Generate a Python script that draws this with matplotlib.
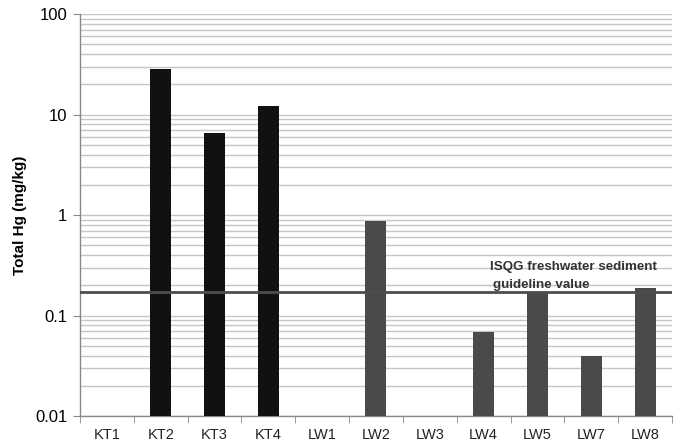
import numpy as np
import matplotlib.pyplot as plt
from matplotlib.ticker import LogLocator, FixedLocator, NullFormatter

# Hg concentrations per sampling site (mg/kg); NaN = not detected
sites = ['KT1', 'KT2', 'KT3', 'KT4', 'LW1', 'LW2', 'LW3', 'LW4', 'LW5', 'LW7', 'LW8']
total_hg = [np.nan, 28.4, 6.5, 12.2, np.nan, 0.87, np.nan, 0.069, 0.168, 0.040, 0.188]
bar_colors = ['#111111'] * 4 + ['#4a4a4a'] * 7
isqg_value = 0.17

plt.rcParams['font.family'] = ['Liberation Sans', 'DejaVu Sans']

fig = plt.figure(figsize=(6.75, 4.46), dpi=100)
ax = fig.add_axes([0.1185, 0.0673, 0.877, 0.901])

x = np.arange(len(sites))
ax.bar(x, total_hg, width=0.39, color=bar_colors, zorder=3)

ax.set_yscale('log')
ax.set_ylim(0.01, 100)
ax.set_xlim(-0.5, len(sites) - 0.5)

# log gridlines (major and minor)
ax.yaxis.set_major_locator(LogLocator(base=10))
ax.yaxis.set_minor_locator(LogLocator(base=10, subs=np.arange(2, 10)))
ax.yaxis.set_minor_formatter(NullFormatter())
ax.set_yticks([0.01, 0.1, 1, 10, 100])
ax.set_yticklabels(['0.01', '0.1', '1', '10', '100'])
ax.grid(True, which='both', axis='y', color='#c6c6c6', linewidth=1.0, zorder=0)
ax.tick_params(axis='y', which='major', length=5, color='#888888', labelsize=12, pad=4)
ax.tick_params(axis='y', which='minor', length=0)

# category labels with tick marks between categories
ax.set_xticks(x)
ax.set_xticklabels(sites)
ax.xaxis.set_minor_locator(FixedLocator(np.arange(-0.5, len(sites), 1.0)))
ax.tick_params(axis='x', which='major', length=0, labelsize=10.5, pad=9, colors='#222222')
ax.tick_params(axis='x', which='minor', length=5, color='#888888')

for side in ['top', 'right']:
    ax.spines[side].set_visible(False)
for side in ['left', 'bottom']:
    ax.spines[side].set_color('#888888')
    ax.spines[side].set_linewidth(1.0)

# guideline
ax.axhline(isqg_value, color='#4d4d4d', linewidth=2, zorder=4)
ax.text(0.693, 0.371, 'ISQG freshwater sediment', transform=ax.transAxes,
        fontsize=9.6, fontweight='bold', color='#333333', ha='left', va='center')
ax.text(0.697, 0.326, 'guideline value', transform=ax.transAxes,
        fontsize=9.6, fontweight='bold', color='#333333', ha='left', va='center')

ax.set_ylabel('Total Hg (mg/kg)', fontsize=11, fontweight='bold', labelpad=6)

fig.savefig('out.png', dpi=100)
